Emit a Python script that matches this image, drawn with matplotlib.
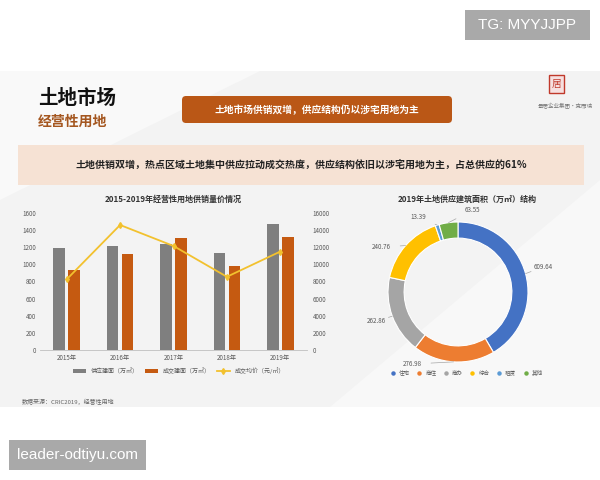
import numpy as np
import matplotlib
matplotlib.use('Agg')
import matplotlib.pyplot as plt
from matplotlib.patches import Rectangle, FancyBboxPatch
from matplotlib.lines import Line2D

plt.rcParams['font.family'] = ['Noto Sans CJK SC', 'DejaVu Sans']

# 数据
years = ['2015年', '2016年', '2017年', '2018年', '2019年']
supply = [1195, 1215, 1235, 1135, 1470]        # 供应建面（万㎡）
deal = [940, 1122, 1310, 978, 1318]            # 成交建面（万㎡）
price = [8250, 14600, 12150, 8550, 11500]      # 成交均价（元/㎡）
bar_names = ['供应建面（万㎡）', '成交建面（万㎡）', '成交均价（元/㎡）']

pie_names = ['住宅', '商住', '商办', '综合', '租赁', '其他']
pie_values = [609.64, 276.98, 262.86, 240.76, 13.39, 63.55]

title_main = '土地市场'
title_sub = '经营性用地'
headline = '土地市场供销双增，供应结构仍以涉宅用地为主'
banner = '土地供销双增，热点区域土地集中供应拉动成交热度，供应结构依旧以涉宅用地为主，占总供应的61%'
source = '数据来源：CRIC2019，经营性用地'

# 样式
c_gray = '#7F7F7F'
c_orange = '#C55A11'
c_line = '#F2C12E'
pie_colors = ['#4472C4', '#ED7D31', '#A5A5A5', '#FFC000', '#5B9BD5', '#70AD47']
label_pos = [(1.22, 0.36), (-0.66, -1.03), (-1.17, -0.42), (-1.1, 0.64), (-0.57, 1.07), (0.21, 1.17)]

fig = plt.figure(figsize=(6, 4.8), dpi=100)
fig.patch.set_facecolor('white')

# 背景 / 页面装饰
deco = fig.add_axes([0, 0, 1, 1])
deco.set_xlim(0, 600)
deco.set_ylim(480, 0)
deco.axis('off')
deco.add_patch(Rectangle((0, 71), 600, 336, color='#F3F3F3', lw=0))
deco.add_patch(plt.Polygon([[330, 407], [600, 180], [600, 407]], color='#F8F8F8', lw=0))
deco.add_patch(plt.Polygon([[0, 71], [260, 71], [0, 200]], color='#F9F9F9', lw=0))

deco.text(38, 99, title_main, fontsize=14, fontweight='bold', color='#111111', va='center')
deco.text(38, 122, title_sub, fontsize=10, fontweight='bold', color='#A4561F', va='center')

deco.add_patch(FancyBboxPatch((182, 96), 270, 27, boxstyle='round,pad=0,rounding_size=4',
                              color='#BA5716', lw=0))
deco.text(317, 110, headline, fontsize=7, fontweight='bold', color='white', ha='center', va='center')

deco.add_patch(Rectangle((18, 145), 566, 40, color='#F6E2D4', lw=0))
deco.text(301, 165, banner, fontsize=7.2, fontweight='bold', color='#222222', ha='center', va='center')

# logo
deco.add_patch(Rectangle((549, 75), 15, 18, facecolor='#F6E0E0', edgecolor='#C0392B', lw=1))
deco.text(556.5, 84, '居', fontsize=7, color='#C0392B', ha='center', va='center')
deco.text(565, 106, '景居企业集团·克而瑞', fontsize=4, color='#777777', ha='center', va='center')

deco.text(22, 402, source, fontsize=4.3, color='#666666', va='center')

# 水印
deco.add_patch(Rectangle((465, 10), 125, 30, color='#A9A9A9', lw=0))
deco.text(527, 25, 'TG: MYYJJPP', fontsize=11, color='white', ha='center', va='center',
          family='Liberation Sans')
deco.add_patch(Rectangle((9, 440), 137, 30, color='#A9A9A9', lw=0))
deco.text(77, 455, 'leader-odtiyu.com', fontsize=11, color='white', ha='center', va='center',
          family='Liberation Sans')

# 柱线图
ax = fig.add_axes([40 / 600, 1 - 350 / 480, 267 / 600, 137 / 480])
ax.set_facecolor('none')
x = np.arange(len(years))
w = 0.22
ax.bar(x - 0.14, supply, width=w, color=c_gray, label=bar_names[0])
ax.bar(x + 0.14, deal, width=w, color=c_orange, label=bar_names[1])
ax.set_xlim(-0.5, len(years) - 0.5)
ax.set_ylim(0, 1600)
ax.set_yticks(range(0, 1601, 200))
ax.set_xticks(x)
ax.set_xticklabels(years)
for s in ['top', 'right', 'left']:
    ax.spines[s].set_visible(False)
ax.spines['bottom'].set_color('#BFBFBF')
ax.spines['bottom'].set_linewidth(0.6)
ax.tick_params(axis='both', labelsize=4.5, colors='#595959', length=0, pad=3)

ax2 = ax.twinx()
ax2.plot(x, price, color=c_line, lw=1.3, marker='d', markersize=3, label=bar_names[2])
ax2.set_ylim(0, 16000)
ax2.set_yticks(range(0, 16001, 2000))
for s in ['top', 'right', 'left', 'bottom']:
    ax2.spines[s].set_visible(False)
ax2.tick_params(axis='y', labelsize=4.5, colors='#595959', length=0, pad=4)

ax.set_title('2015-2019年经营性用地供销量价情况', fontsize=5.8, fontweight='bold',
             color='#333333', pad=8)

h1, l1 = ax.get_legend_handles_labels()
h2, l2 = ax2.get_legend_handles_labels()
ax.legend(h1 + h2, l1 + l2, loc='upper center', bbox_to_anchor=(0.52, -0.09), ncol=3,
          frameon=False, fontsize=4.3, handlelength=2.2, columnspacing=1.0,
          labelcolor='#595959')

# 环形图
axp = fig.add_axes([388 / 600, 1 - 362 / 480, 140 / 600, 140 / 480])
axp.set_facecolor('none')
wedges, _ = axp.pie(pie_values, colors=pie_colors, startangle=90, counterclock=False,
                    radius=1, wedgeprops=dict(width=0.23, edgecolor='white', linewidth=0.8))
axp.set_xlim(-1, 1)
axp.set_ylim(-1, 1)
axp.set_aspect('equal')
for wdg, val, pos in zip(wedges, pie_values, label_pos):
    ang = np.deg2rad((wdg.theta1 + wdg.theta2) / 2)
    axp.annotate(f'{val:.2f}', xy=(np.cos(ang), np.sin(ang)), xytext=pos,
                 fontsize=4.5, color='#595959', ha='center', va='center',
                 arrowprops=dict(arrowstyle='-', color='#A6A6A6', lw=0.5,
                                 shrinkA=5, shrinkB=0),
                 annotation_clip=False)

axp.text(0.13, 1.32, '2019年土地供应建筑面积（万㎡）结构', fontsize=5.8, fontweight='bold',
         color='#333333', ha='center', va='center')
handles = [Line2D([], [], marker='o', ls='', color=c, markersize=2.2) for c in pie_colors]
axp.legend(handles, pie_names, loc='upper center', bbox_to_anchor=(0.55, -0.02), ncol=6,
           frameon=False, fontsize=4, handletextpad=0.1, columnspacing=0.7,
           labelcolor='#595959')

fig.savefig('out.png', dpi=100)
